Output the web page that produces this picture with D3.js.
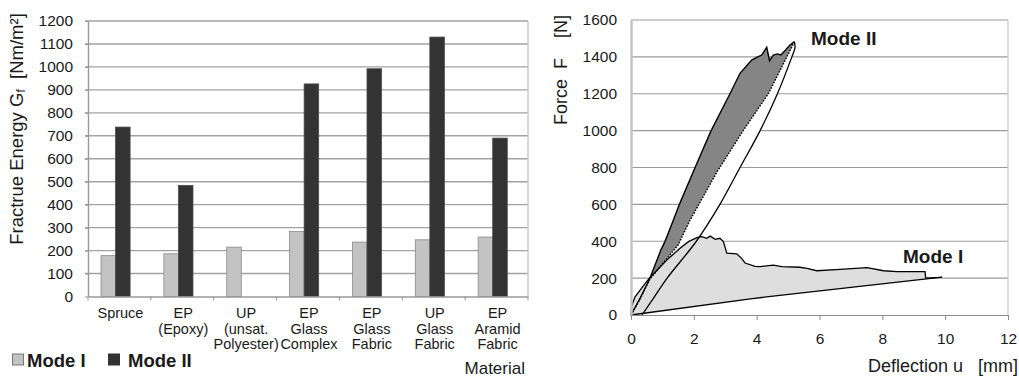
<!DOCTYPE html>
<html><head><meta charset="utf-8">
<script src="https://cdn.jsdelivr.net/npm/d3@7"></script>
<style>
body{margin:0;background:#fff}
svg{display:block;font-family:"Liberation Sans",Arial,Helvetica,sans-serif;}
</style>
</head><body>
<svg id="chart" width="1019" height="376"></svg>
<script>
// ---------- data: left bar chart ----------
const categories = [
  ["Spruce"],
  ["EP","(Epoxy)"],
  ["UP","(unsat.","Polyester)"],
  ["EP","Glass","Complex"],
  ["EP","Glass","Fabric"],
  ["UP","Glass","Fabric"],
  ["EP","Aramid","Fabric"]
];
const seriesNames = ["Mode I","Mode II"];
const modeI  = [178, 186, 215, 283, 237, 247, 259];
const modeII = [738, 484, null, 926, 992, 1130, 690];
const leftYTicks = [0,100,200,300,400,500,600,700,800,900,1000,1100,1200];

// ---------- data: right force-deflection chart ----------
const rightXTicks = [0,2,4,6,8,10,12];
const rightYTicks = [0,200,400,600,800,1000,1200,1400,1600];
// Mode II loading curve [u mm, F N]
const mode2Loading = [[0,0],[0.3,95],[0.58,190],[0.95,352],[1.08,398],[1.35,515],[1.54,600],[2.04,800],[2.55,1000],
  [3.15,1200],[3.47,1311],[3.84,1383],[4.05,1401],[4.16,1410],[4.32,1452],[4.41,1379],[4.53,1410],[4.66,1416],
  [4.77,1410],[4.90,1433],[5.06,1464],[5.20,1482]];
// Mode II dotted line (secant)
const mode2Dotted = [[0,0],[0.3,90],[0.58,190],[1.5,380],[1.88,515],[2.75,780],[3.57,1000],[4.37,1200],[4.96,1400],[5.20,1482]];
// Mode II unloading curve
const mode2Unload = [[0.35,0],[0.75,100],[1.15,200],[2.08,400],[2.83,600],[3.47,800],[4.11,1000],[4.66,1200],
  [5.12,1400],[5.22,1450],[5.20,1482]];
// Mode I upper curve
const mode1Upper = [[0,0],[0.02,45],[0.05,63],[0.13,99],[0.29,135],[0.58,199],[1.14,298],[1.56,362],[1.83,398],[2.1,420],
  [2.25,425],[2.41,416],[2.52,428],[2.68,410],[2.83,416],[2.94,398],[3.05,335],[3.37,331],[3.52,307],[3.63,282],
  [3.95,264],[4.11,262],[4.53,271],[4.80,262],[5.38,259],[5.60,253],[5.91,240],[6.66,248],[7.51,257],[8.04,240],
  [8.46,235],[9.36,235],[9.38,200]];
// Mode I lower line
const mode1Lower = [[0,0],[3.8,88],[9.9,205]];

const svg = d3.select("#chart");
const txt = "#1a1a1a";
const fmt = d3.format("d");

// ================= LEFT CHART =================
const L = {x0:88, x1:528, y0:296.5, y1:21};
const xBand = d3.scaleBand().domain(d3.range(categories.length)).range([L.x0, L.x1]).paddingInner(0).paddingOuter(0);
const bw = xBand.bandwidth();
const xSub = d3.scaleBand().domain(seriesNames).range([0.207*bw, 0.67*bw]);
const yL = d3.scaleLinear().domain([0,1200]).range([L.y0, L.y1]);

const gL = svg.append("g");
gL.selectAll("line.grid").data(leftYTicks.filter(d=>d>0)).join("line")
  .attr("x1", L.x0-3).attr("x2", L.x1).attr("y1", d=>yL(d)).attr("y2", d=>yL(d))
  .attr("stroke","#a2a2a2").attr("stroke-width",1.4);
gL.append("line").attr("x1",L.x1).attr("x2",L.x1).attr("y1",L.y1).attr("y2",L.y0)
  .attr("stroke","#c8c8c8").attr("stroke-width",1.4);
const barData = [];
categories.forEach((c,i)=>{
  if (modeI[i]!=null) barData.push({i, s:"Mode I", v:modeI[i]});
  if (modeII[i]!=null) barData.push({i, s:"Mode II", v:modeII[i]});
});
gL.selectAll("rect.bar").data(barData).join("rect")
  .attr("x", d=>xBand(d.i)+xSub(d.s))
  .attr("width", xSub.bandwidth())
  .attr("y", d=>yL(d.v))
  .attr("height", d=>yL(0)-yL(d.v))
  .attr("fill", d=>d.s==="Mode I" ? "#c3c3c3" : "#333333")
  .attr("stroke", d=>d.s==="Mode I" ? "#8a8a8a" : "#4a4a4a")
  .attr("stroke-width", 0.8);

const gYL = gL.append("g").attr("transform",`translate(${L.x0},0)`)
  .call(d3.axisLeft(yL).tickValues(leftYTicks).tickFormat(fmt).tickSize(3).tickSizeOuter(0).tickPadding(12));
gYL.attr("font-family",null).attr("font-size",null);
gYL.select(".domain").attr("stroke","#999").attr("stroke-width",1.4);
gYL.selectAll(".tick line").attr("stroke","#999");
gYL.selectAll(".tick text").attr("font-size","15.5px").attr("fill",txt);

const gXL = gL.append("g").attr("transform",`translate(0,${L.y0})`)
  .call(d3.axisBottom(xBand).tickSize(0).tickSizeOuter(0).tickFormat(""));
gXL.select(".domain").attr("stroke","#999").attr("stroke-width",1.4);
gL.selectAll("line.ctick").data(d3.range(categories.length+1)).join("line")
  .attr("x1", i=>L.x0+i*bw).attr("x2", i=>L.x0+i*bw).attr("y1",L.y0).attr("y2",L.y0+4)
  .attr("stroke","#999").attr("stroke-width",1);
const catG = gL.selectAll("text.cat").data(categories).join("text")
  .attr("text-anchor","middle").attr("font-size","14.5px").attr("fill",txt)
  .attr("transform",(d,i)=>`translate(${xBand(i)+bw/2+1},0)`);
catG.selectAll("tspan").data(d=>d).join("tspan")
  .attr("x",0).attr("y",(d,j)=>318+j*15.5).text(d=>d);

const yt = gL.append("text").attr("transform","translate(23,129) rotate(-90)")
  .attr("text-anchor","middle").attr("font-size","18.5px").attr("fill",txt)
  .style("white-space","pre");
yt.append("tspan").text("Fractrue Energy G");
yt.append("tspan").attr("font-size","12px").attr("dy","2").text("f");
yt.append("tspan").attr("dy","-2").text("  [Nm/m²]");

const leg = gL.append("g");
[["Mode I","#c3c3c3","#777",12.5,27],["Mode II","#333","#333",108.5,128]].forEach(([name,fill,str,sx,tx])=>{
  leg.append("rect").attr("x",sx).attr("y",354).attr("width",11).attr("height",11)
    .attr("fill",fill).attr("stroke",str).attr("stroke-width",1);
  leg.append("text").attr("x",tx).attr("y",366.5).attr("font-size","18.5px").attr("font-weight","bold")
    .attr("fill",txt).text(name);
});
gL.append("text").attr("x",525).attr("y",373.5).attr("text-anchor","end")
  .attr("font-size","17px").attr("fill",txt).text("Material");

// ================= RIGHT CHART =================
const R = {x0:631, x1:1008, y0:315, y1:20};
const xR = d3.scaleLinear().domain([0,12]).range([R.x0,R.x1]);
const yR = d3.scaleLinear().domain([0,1600]).range([R.y0,R.y1]);
const gR = svg.append("g");

gR.selectAll("line.grid").data(rightYTicks.filter(d=>d>0)).join("line")
  .attr("x1",R.x0).attr("x2",R.x1).attr("y1",d=>yR(d)).attr("y2",d=>yR(d))
  .attr("stroke","#9a9a9a").attr("stroke-width",1.1);
gR.append("line").attr("x1",R.x1).attr("x2",R.x1).attr("y1",R.y1).attr("y2",R.y0)
  .attr("stroke","#c8c8c8").attr("stroke-width",1.2);

const line = d3.line().x(d=>xR(d[0])).y(d=>yR(d[1]));
const smooth = d3.line().x(d=>xR(d[0])).y(d=>yR(d[1])).curve(d3.curveCatmullRom.alpha(0.5));

gR.append("path").attr("d", line(mode2Dotted.concat(mode2Unload.slice().reverse())) + "Z")
  .attr("fill","#ffffff");
gR.append("path").attr("d", line(mode1Upper.concat(mode1Lower.slice().reverse())) + "Z")
  .attr("fill","#dedede");
gR.append("path").attr("d", line(mode2Loading.concat(mode2Dotted.slice().reverse())) + "Z")
  .attr("fill","#858585");

gR.append("path").attr("d", line(mode1Upper)).attr("fill","none").attr("stroke","#000").attr("stroke-width",1.3);
gR.append("path").attr("d", line(mode1Lower)).attr("fill","none").attr("stroke","#000").attr("stroke-width",1.3);
gR.append("path").attr("d", line([mode1Upper[mode1Upper.length-1], mode1Lower[mode1Lower.length-1]])).attr("fill","none").attr("stroke","#000").attr("stroke-width",1.1);
gR.append("path").attr("d", line(mode2Loading)).attr("fill","none").attr("stroke","#000").attr("stroke-width",1.4);
gR.append("path").attr("d", smooth(mode2Unload)).attr("fill","none").attr("stroke","#000").attr("stroke-width",1.3);
gR.append("path").attr("d", line(mode2Dotted)).attr("fill","none").attr("stroke","#000").attr("stroke-width",1.5)
  .attr("stroke-dasharray","1.5,1.5");

const gYR = gR.append("g").attr("transform",`translate(${R.x0},0)`)
  .call(d3.axisLeft(yR).tickValues(rightYTicks).tickFormat(fmt).tickSize(0).tickSizeOuter(0).tickPadding(14));
gYR.attr("font-family",null).attr("font-size",null);
gYR.select(".domain").attr("stroke","#c4c4c4").attr("stroke-width",2.5);
gYR.selectAll(".tick text").attr("font-size","15.5px").attr("fill",txt);

const gXR = gR.append("g").attr("transform",`translate(0,${R.y0})`)
  .call(d3.axisBottom(xR).tickValues(rightXTicks).tickFormat(fmt).tickSize(5).tickPadding(13).tickSizeOuter(0));
gXR.attr("font-family",null).attr("font-size",null);
gXR.select(".domain").attr("stroke","#8a8a8a").attr("stroke-width",1.2);
gXR.selectAll(".tick line").attr("stroke","#8a8a8a");
gXR.selectAll(".tick text").attr("font-size","15.5px").attr("fill",txt);

gR.append("text").attr("transform","translate(567,15) rotate(-90)").attr("text-anchor","end")
  .attr("font-size","18px").attr("fill",txt).style("white-space","pre").text("Force  F    [N]");
gR.append("text").attr("x",1018).attr("y",371.5).attr("text-anchor","end")
  .attr("font-size","18px").attr("fill",txt).style("white-space","pre").text("Deflection u   [mm]");

gR.append("text").attr("x",811).attr("y",45).attr("font-size","19px").attr("font-weight","bold")
  .attr("fill",txt).text("Mode II");
gR.append("text").attr("x",903).attr("y",263).attr("font-size","19px").attr("font-weight","bold")
  .attr("fill",txt).text("Mode I");
</script>
</body></html>
